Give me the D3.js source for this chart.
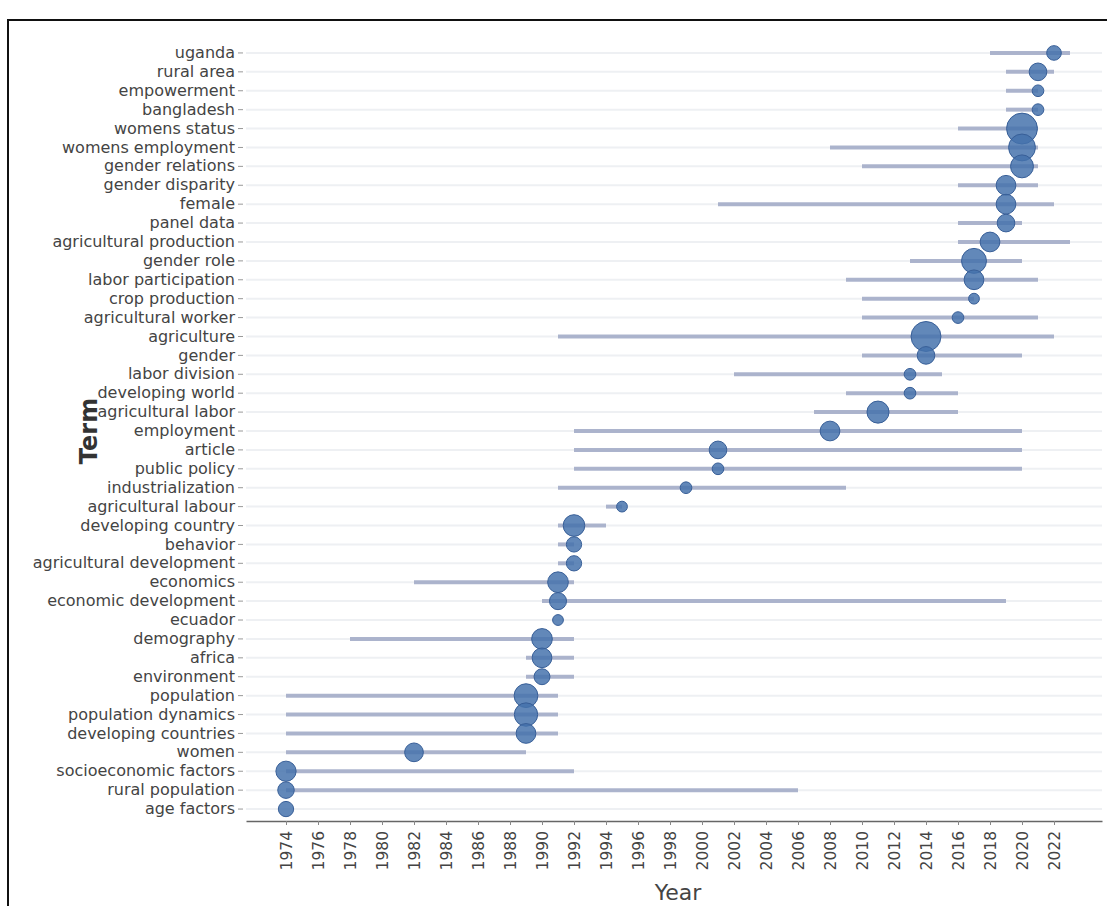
<!DOCTYPE html>
<html>
<head>
<meta charset="utf-8">
<script src="https://cdn.jsdelivr.net/npm/d3@7"></script>
<style>
  body { margin: 0; background: #fff; }
  svg { display: block; }
</style>
</head>
<body>
<svg id="chart" width="1107" height="906"></svg>
<script>
// Trend topics: each term's active span (start..end) and the year it peaked,
// with bubble size showing how often the term appears.
const terms = [
  "uganda", "rural area", "empowerment", "bangladesh", "womens status",
  "womens employment", "gender relations", "gender disparity", "female", "panel data",
  "agricultural production", "gender role", "labor participation", "crop production", "agricultural worker",
  "agriculture", "gender", "labor division", "developing world", "agricultural labor",
  "employment", "article", "public policy", "industrialization", "agricultural labour",
  "developing country", "behavior", "agricultural development", "economics", "economic development",
  "ecuador", "demography", "africa", "environment", "population",
  "population dynamics", "developing countries", "women", "socioeconomic factors", "rural population",
  "age factors"
];
const startYear = [
  2018, 2019, 2019, 2019, 2016,
  2008, 2010, 2016, 2001, 2016,
  2016, 2013, 2009, 2010, 2010,
  1991, 2010, 2002, 2009, 2007,
  1992, 1992, 1992, 1991, 1994,
  1991, 1991, 1991, 1982, 1990,
  1991, 1978, 1989, 1989, 1974,
  1974, 1974, 1974, 1974, 1974,
  1974
];
const endYear = [
  2023, 2022, 2021, 2021, 2021,
  2021, 2021, 2021, 2022, 2020,
  2023, 2020, 2021, 2017, 2021,
  2022, 2020, 2015, 2016, 2016,
  2020, 2020, 2020, 2009, 1995,
  1994, 1992, 1992, 1992, 2019,
  1991, 1992, 1992, 1992, 1991,
  1991, 1991, 1989, 1992, 2006,
  1974
];
const peakYear = [
  2022, 2021, 2021, 2021, 2020,
  2020, 2020, 2019, 2019, 2019,
  2018, 2017, 2017, 2017, 2016,
  2014, 2014, 2013, 2013, 2011,
  2008, 2001, 2001, 1999, 1995,
  1992, 1992, 1992, 1991, 1991,
  1991, 1990, 1990, 1990, 1989,
  1989, 1989, 1982, 1974, 1974,
  1974
];
const frequency = [
  11, 16, 7, 7, 49,
  37, 27, 20, 20, 16,
  20, 32, 20, 6, 7,
  46, 16, 7, 7, 25,
  20, 16, 7, 7, 6,
  24, 12, 12, 22, 15,
  6, 22, 20, 13, 29,
  28, 20, 18, 21, 14,
  12
];
const yearTicks = [
  1974, 1976, 1978, 1980, 1982, 1984, 1986, 1988, 1990, 1992, 1994, 1996, 1998,
  2000, 2002, 2004, 2006, 2008, 2010, 2012, 2014, 2016, 2018, 2020, 2022
];

const rows = terms.map((t, i) => ({
  term: t, start: startYear[i], end: endYear[i], peak: peakYear[i], freq: frequency[i]
}));

const svg = d3.select("#chart");
const W = 1107, H = 906;

// outer frame
svg.append("rect")
  .attr("x", 8).attr("y", 20)
  .attr("width", W + 10).attr("height", H + 10)
  .attr("fill", "#fff")
  .attr("stroke", "#111").attr("stroke-width", 2);

const plot = { left: 246, right: 1102, top: 43.5, bottom: 818.5 };

const x = d3.scaleLinear().domain([1971.5, 2025]).range([plot.left, plot.right]);
const y = d3.scaleBand().domain(terms).range([plot.top, plot.bottom]).padding(0);
const r = d3.scaleSqrt().domain([0, 50]).range([0, 15.6]);
const cy = d => y(d) + y.bandwidth() / 2;

// faint row guides
svg.append("g").selectAll("line")
  .data(rows).join("line")
  .attr("x1", plot.left).attr("x2", plot.right)
  .attr("y1", d => cy(d.term)).attr("y2", d => cy(d.term))
  .attr("stroke", "#eef0f3").attr("stroke-width", 2);

// active spans
svg.append("g").selectAll("line")
  .data(rows).join("line")
  .attr("x1", d => x(d.start)).attr("x2", d => x(d.end))
  .attr("y1", d => cy(d.term)).attr("y2", d => cy(d.term))
  .attr("stroke", "#a3acc8").attr("stroke-width", 4)
  .attr("stroke-opacity", 0.9);

// peak-year bubbles
svg.append("g").selectAll("circle")
  .data(rows).join("circle")
  .attr("cx", d => x(d.peak))
  .attr("cy", d => cy(d.term))
  .attr("r", d => r(d.freq))
  .attr("fill", "#4471ab").attr("fill-opacity", 0.84)
  .attr("stroke", "#385f98").attr("stroke-width", 1);

// y axis (term labels)
const yAxis = svg.append("g")
  .attr("transform", `translate(${plot.left - 3},0)`)
  .call(d3.axisLeft(y).tickSize(5).tickPadding(3));
yAxis.select(".domain").remove();
yAxis.selectAll(".tick line").attr("stroke", "#999");
yAxis.selectAll(".tick text")
  .attr("fill", "#444")
  .style("font-family", "'DejaVu Sans', sans-serif")
  .style("font-size", "16px");

// x axis (years)
const xAxis = svg.append("g")
  .attr("transform", `translate(0,${plot.bottom + 2.5})`)
  .call(d3.axisBottom(x).tickValues(yearTicks).tickFormat(d3.format("d")).tickSize(4).tickSizeOuter(0).tickPadding(6));
xAxis.select(".domain").attr("stroke", "#666").attr("stroke-width", 1.5);
xAxis.selectAll(".tick line").attr("stroke", "#888");
xAxis.selectAll(".tick text")
  .attr("fill", "#444")
  .style("font-family", "'DejaVu Sans', sans-serif")
  .style("font-size", "15.5px")
  .attr("text-anchor", "end")
  .attr("transform", "rotate(-90)")
  .attr("x", -10).attr("y", 0).attr("dy", "0.35em");

// axis titles
svg.append("text")
  .attr("x", 678).attr("y", 900)
  .attr("text-anchor", "middle")
  .attr("fill", "#444")
  .style("font-family", "'DejaVu Sans', sans-serif")
  .style("font-size", "22px")
  .text("Year");

svg.append("text")
  .attr("transform", "translate(97,431) rotate(-90)")
  .attr("text-anchor", "middle")
  .attr("fill", "#333")
  .style("font-family", "'DejaVu Sans', sans-serif")
  .style("font-weight", "bold")
  .style("font-size", "24px")
  .text("Term");
</script>
</body>
</html>
